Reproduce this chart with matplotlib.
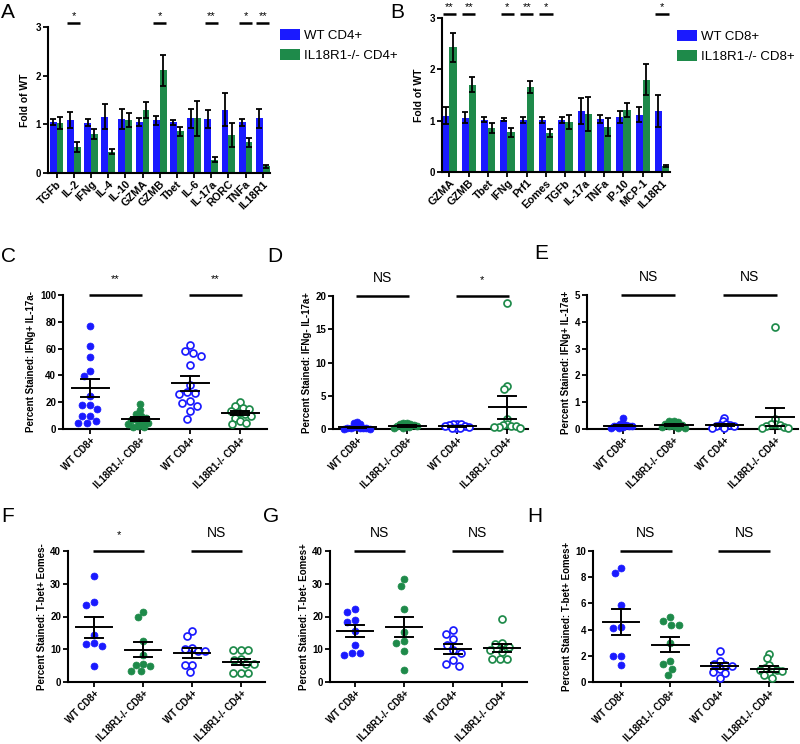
import numpy as np
import matplotlib
matplotlib.use('Agg')
import matplotlib.pyplot as plt
from matplotlib.patches import Patch

plt.rcParams['font.family'] = ['Liberation Sans', 'DejaVu Sans']

BLUE = '#1a1aff'
GREEN = '#1e8a4a'

# ---------------- Panel A data ----------------
a_genes = ['TGFb', 'IL-2', 'IFNg', 'IL-4', 'IL-10', 'GZMA', 'GZMB', 'Tbet',
           'IL-6', 'IL-17a', 'RORC', 'TNFa', 'IL18R1']
a_wt = [1.04, 1.09, 1.03, 1.16, 1.11, 1.05, 1.08, 1.04, 1.12, 1.11, 1.30, 1.04, 1.12]
a_wt_err = [0.06, 0.17, 0.07, 0.25, 0.20, 0.08, 0.10, 0.05, 0.20, 0.18, 0.34, 0.07, 0.20]
a_ko = [1.03, 0.54, 0.80, 0.44, 1.09, 1.29, 2.11, 0.86, 1.12, 0.27, 0.78, 0.63, 0.14]
a_ko_err = [0.12, 0.10, 0.10, 0.05, 0.14, 0.17, 0.32, 0.09, 0.35, 0.05, 0.25, 0.09, 0.03]
a_sig_genes = ['IL-2', 'GZMB', 'IL-17a', 'TNFa', 'IL18R1']
a_sig_marks = ['*', '*', '**', '*', '**']

# ---------------- Panel B data ----------------
b_genes = ['GZMA', 'GZMB', 'Tbet', 'IFNg', 'Prf1', 'Eomes', 'TGFb', 'IL-17a',
           'TNFa', 'IP-10', 'MCP-1', 'IL18R1']
b_wt = [1.10, 1.06, 1.02, 1.02, 1.02, 1.02, 1.02, 1.19, 1.04, 1.07, 1.12, 1.19]
b_wt_err = [0.17, 0.10, 0.05, 0.03, 0.06, 0.06, 0.06, 0.26, 0.08, 0.11, 0.15, 0.31]
b_ko = [2.43, 1.70, 0.86, 0.77, 1.65, 0.76, 0.97, 1.13, 0.88, 1.21, 1.80, 0.11]
b_ko_err = [0.28, 0.15, 0.10, 0.09, 0.12, 0.08, 0.14, 0.34, 0.18, 0.14, 0.30, 0.02]
b_sig_genes = ['GZMA', 'GZMB', 'IFNg', 'Prf1', 'Eomes', 'IL18R1']
b_sig_marks = ['**', '**', '*', '**', '*', '*']

# ---------------- Scatter panels ----------------
groups = ['WT CD8+', 'IL18R1-/- CD8+', 'WT CD4+', 'IL18R1-/- CD4+']

c_wt_cd8 = [77, 62, 54, 43.4, 39.7, 24.3, 18, 18, 15, 10, 10, 5.7, 4.5, 4.5]
c_ko_cd8 = [18.6, 13.9, 11.2, 9.5, 8, 7, 6.5, 5.5, 4.5, 3.5, 2.5, 1.8, 1.5]
c_wt_cd4 = [62.5, 58, 57, 54.6, 48, 32.8, 27.3, 26.8, 26.3, 20.6, 19.4, 17.4, 13.2, 7.7]
c_ko_cd4 = [19.9, 16.9, 15.6, 14.9, 13.2, 11.9, 11, 9.4, 8.2, 5.7, 4.5, 4]
c_mean = [30.5, 7.7, 34.2, 12.2]
c_sem = [6.5, 1.5, 5.5, 1.4]

d_wt_cd8 = [1.0, 0.9, 0.7, 0.4, 0.3, 0.2, 0.2, 0.15, 0.1, 0.1, 0.05, 0.05]
d_ko_cd8 = [0.9, 0.85, 0.8, 0.7, 0.6, 0.5, 0.45, 0.4, 0.3, 0.2, 0.15]
d_wt_cd4 = [0.8, 0.75, 0.7, 0.6, 0.5, 0.4, 0.3, 0.2, 0.1, 0.1]
d_ko_cd4 = [18.9, 6.5, 6.0, 1.5, 0.8, 0.6, 0.5, 0.4, 0.3, 0.3, 0.2]
d_mean = [0.25, 0.45, 0.4, 3.24]
d_sem = [0.1, 0.08, 0.08, 1.7]

e_wt_cd8 = [0.42, 0.2, 0.18, 0.15, 0.13, 0.12, 0.1, 0.1, 0.08, 0.05, 0.05]
e_ko_cd8 = [0.3, 0.28, 0.25, 0.2, 0.15, 0.12, 0.1, 0.08, 0.05, 0.05]
e_wt_cd4 = [0.42, 0.28, 0.2, 0.15, 0.15, 0.12, 0.1, 0.05, 0.05]
e_ko_cd4 = [3.82, 0.38, 0.2, 0.18, 0.15, 0.12, 0.08, 0.05, 0.05]
e_mean = [0.13, 0.14, 0.14, 0.45]
e_sem = [0.03, 0.03, 0.04, 0.35]

f_wt_cd8 = [32.5, 24.4, 23.6, 14.5, 12.0, 11.6, 11.1, 4.8]
f_ko_cd8 = [21.5, 19.9, 12.4, 8.2, 5.6, 5.2, 5.0, 3.5, 3.4]
f_wt_cd4 = [15.6, 14.1, 10.5, 10.2, 9.5, 9.5, 5.1, 5.1, 3.1]
f_ko_cd4 = [9.9, 9.9, 9.9, 7.1, 6.8, 5.5, 5.4, 2.8, 2.8, 2.8]
f_mean = [16.7, 9.9, 8.8, 6.1]
f_sem = [3.3, 2.2, 1.5, 0.9]

g_wt_cd8 = [22.3, 21.5, 18.9, 18.4, 15.5, 11.2, 8.9, 8.9, 8.3]
g_ko_cd8 = [31.6, 29.3, 22.3, 15.2, 12.4, 11.8, 9.6, 3.6]
g_wt_cd4 = [16.0, 14.6, 13.0, 11.4, 9.9, 9.0, 6.6, 5.6, 4.9]
g_ko_cd4 = [19.3, 11.9, 11.6, 10.8, 9.8, 9.2, 7.0, 7.0, 7.0]
g_mean = [15.6, 16.8, 10.1, 10.5]
g_sem = [1.9, 3.1, 1.5, 1.2]

h_wt_cd8 = [8.7, 8.3, 5.9, 4.2, 4.1, 2.0, 2.0, 1.3]
h_ko_cd8 = [4.97, 4.64, 4.34, 4.34, 3.0, 1.6, 1.35, 1.0, 0.5]
h_wt_cd4 = [2.4, 1.6, 1.35, 1.3, 1.2, 1.0, 0.8, 0.7, 0.3]
h_ko_cd4 = [2.15, 1.8, 1.3, 1.1, 1.0, 0.95, 0.9, 0.85, 0.6, 0.55, 0.3]
h_mean = [4.57, 2.86, 1.2, 1.0]
h_sem = [1.0, 0.6, 0.22, 0.2]

W, H = 800, 744
fig = plt.figure(figsize=(W / 100, H / 100), dpi=100)


def px_axes(left, right, top, bottom):
    return fig.add_axes([left / W, 1 - bottom / H, (right - left) / W, (bottom - top) / H])


def style_axes(ax):
    for s in ['top', 'right']:
        ax.spines[s].set_visible(False)
    for s in ['left', 'bottom']:
        ax.spines[s].set_linewidth(1.5)
    ax.tick_params(direction='out', length=3.5, width=1.3, pad=1.5)
    ax.tick_params(axis='x', pad=0.8)
    for lab in ax.get_yticklabels():
        lab.set_fontweight('bold')
        lab.set_fontsize(7)


def bar_panel(ax, genes, wt, wt_err, ko, ko_err, sig_genes, sig_marks, width, xlim):
    x = np.arange(len(genes))
    ax.bar(x - width / 2, wt, width, color=BLUE, zorder=2)
    ax.bar(x + width / 2, ko, width, color=GREEN, zorder=2)
    ax.errorbar(x - width / 2, wt, yerr=wt_err, fmt='none', ecolor='black',
                elinewidth=1.3, capsize=2.2, capthick=1.3, zorder=3)
    ax.errorbar(x + width / 2, ko, yerr=ko_err, fmt='none', ecolor='black',
                elinewidth=1.3, capsize=2.2, capthick=1.3, zorder=3)
    ax.set_xlim(*xlim)
    ax.set_ylim(0, 3)
    ax.set_yticks([0, 1, 2, 3])
    ax.set_xticks(x)
    ax.set_xticklabels(genes, rotation=45, ha='right', rotation_mode='anchor',
                       fontsize=7.8, fontweight='bold')
    ax.set_ylabel('Fold of WT', fontsize=7.5, fontweight='bold', labelpad=4)
    style_axes(ax)
    for g, m in zip(sig_genes, sig_marks):
        i = genes.index(g)
        ax.plot([i - width * 0.95, i + width * 0.95], [3.08, 3.08], color='black',
                lw=1.8, clip_on=False, solid_capstyle='butt')
        ax.annotate(m, (i, 3.08), xytext=(0, 1.5), textcoords='offset points',
                    ha='center', va='bottom', fontsize=8, annotation_clip=False)


def add_legend(ax, labels, x, y):
    handles = [Patch(facecolor=BLUE, edgecolor='none'), Patch(facecolor=GREEN, edgecolor='none')]
    ax.legend(handles, labels, loc='upper left',
              bbox_to_anchor=(x / W, 1 - y / H), bbox_transform=fig.transFigure,
              frameon=False, fontsize=9.5, handlelength=1.5, handleheight=0.85,
              handletextpad=0.3, labelspacing=0.55, borderaxespad=0, borderpad=0)


# ---- A ----
axA = px_axes(48, 270, 27, 173)
bar_panel(axA, a_genes, a_wt, a_wt_err, a_ko, a_ko_err, a_sig_genes, a_sig_marks,
          0.4, (-0.5, 12.42))
add_legend(axA, ['WT CD4+', 'IL18R1-/- CD4+'], 280, 29)

# ---- B ----
axB = px_axes(442, 670, 18, 172)
bar_panel(axB, b_genes, b_wt, b_wt_err, b_ko, b_ko_err, b_sig_genes, b_sig_marks,
          0.37, (-0.38, 11.41))
add_legend(axB, ['WT CD8+', 'IL18R1-/- CD8+'], 677, 30)


def swarm_px(ys, diam):
    order = np.argsort(-ys)
    placed = []
    offs = np.zeros(len(ys))
    for i in order:
        y = ys[i]
        forb = []
        for (px, py) in placed:
            dy = abs(py - y)
            if dy < diam:
                dx = np.sqrt(diam ** 2 - dy ** 2)
                forb.append((px - dx, px + dx))
        cands = [0.0] + [a for a, b in forb] + [b for a, b in forb]
        best = 0.0
        for c in sorted(cands, key=abs):
            if all(not (a + 1e-6 < c < b - 1e-6) for a, b in forb):
                best = c
                break
        offs[i] = best
        placed.append((best, y))
    return offs


def swarm(ax, x0, values, diam, maxw=13.0):
    tr = ax.transData
    ys = np.array([tr.transform((x0, v))[1] for v in values])
    d = diam
    offs = swarm_px(ys, d)
    while np.max(np.abs(offs)) > maxw and d > 1.0:
        d *= 0.92
        offs = swarm_px(ys, d)
    bb = ax.get_window_extent()
    xl = ax.get_xlim()
    ppu = bb.width / (xl[1] - xl[0])
    return x0 + offs / ppu


def scatter_panel(ax, data, means, sems, ymax, yticks, ylabel, sig, xlim, ms=5.0):
    ax.set_xlim(*xlim)
    ax.set_ylim(0, ymax)
    ax.set_yticks(yticks)
    ax.set_xticks(range(4))
    ax.set_xticklabels(groups, rotation=45, ha='right', rotation_mode='anchor',
                       fontsize=6.9, fontweight='bold')
    ax.set_ylabel(ylabel, fontsize=7, fontweight='bold', labelpad=2.5)
    style_axes(ax)
    cols = [BLUE, GREEN, BLUE, GREEN]
    filled = [True, True, False, False]
    diam = ms / 0.72 + 1.2
    for i, vals in enumerate(data):
        xs = swarm(ax, i, vals, diam)
        if filled[i]:
            ax.plot(xs, vals, 'o', ms=ms, color=cols[i], mec=cols[i], mew=0.5,
                    clip_on=False, zorder=3, ls='none')
        else:
            ax.plot(xs, vals, 'o', ms=ms, mfc='white', mec=cols[i], mew=1.25,
                    clip_on=False, zorder=3, ls='none')
        m, s = means[i], sems[i]
        ax.plot([i - 0.37, i + 0.37], [m, m], color='black', lw=1.4, zorder=4, clip_on=False)
        ax.plot([i - 0.18, i + 0.18], [m + s, m + s], color='black', lw=1.4, zorder=4, clip_on=False)
        ax.plot([i - 0.18, i + 0.18], [m - s, m - s], color='black', lw=1.4, zorder=4, clip_on=False)
        ax.plot([i, i], [max(m - s, 0), m + s], color='black', lw=1.4, zorder=4, clip_on=False)
    for k, txt in enumerate(sig):
        a, b = 2 * k, 2 * k + 1
        ax.plot([a - 0.03, b + 0.03], [ymax, ymax], color='black', lw=1.8, clip_on=False,
                solid_capstyle='butt')
        fs = 10 if txt == 'NS' else 8
        ax.annotate(txt, ((a + b) / 2, ymax), xytext=(0, 8), textcoords='offset points',
                    ha='center', va='bottom', fontsize=fs, annotation_clip=False)


axC = px_axes(63, 267, 295, 429)
scatter_panel(axC, [c_wt_cd8, c_ko_cd8, c_wt_cd4, c_ko_cd4], c_mean, c_sem, 100,
              [0, 20, 40, 60, 80, 100], 'Percent Stained: IFNg+ IL-17a-', ['**', '**'],
              (-0.54, 3.54))
axD = px_axes(333, 528, 296, 429)
scatter_panel(axD, [d_wt_cd8, d_ko_cd8, d_wt_cd4, d_ko_cd4], d_mean, d_sem, 20,
              [0, 5, 10, 15, 20], 'Percent Stained: IFNg- IL-17a+', ['NS', '*'],
              (-0.48, 3.42))
axE = px_axes(587, 798, 295, 429)
scatter_panel(axE, [e_wt_cd8, e_ko_cd8, e_wt_cd4, e_ko_cd4], e_mean, e_sem, 5,
              [0, 1, 2, 3, 4, 5], 'Percent Stained: IFNg+ IL-17a+', ['NS', 'NS'],
              (-0.71, 3.45))
axF = px_axes(68, 265, 551, 682)
scatter_panel(axF, [f_wt_cd8, f_ko_cd8, f_wt_cd4, f_ko_cd4], f_mean, f_sem, 40,
              [0, 10, 20, 30, 40], 'Percent Stained: T-bet+ Eomes-', ['*', 'NS'],
              (-0.53, 3.49))
axG = px_axes(330, 527, 551, 682)
scatter_panel(axG, [g_wt_cd8, g_ko_cd8, g_wt_cd4, g_ko_cd4], g_mean, g_sem, 40,
              [0, 10, 20, 30, 40], 'Percent Stained: T-bet- Eomes+', ['NS', 'NS'],
              (-0.51, 3.51))
axH = px_axes(593, 793, 551, 682)
scatter_panel(axH, [h_wt_cd8, h_ko_cd8, h_wt_cd4, h_ko_cd4], h_mean, h_sem, 10,
              [0, 2, 4, 6, 8, 10], 'Percent Stained: T-bet+ Eomes+', ['NS', 'NS'],
              (-0.57, 3.49))

# panel letters
letters = ['A', 'B', 'C', 'D', 'E', 'F', 'G', 'H']
letter_pos = [(8, 13), (397, 13), (8, 257), (275, 257), (541, 254), (8, 516), (271, 516), (535, 516)]
for L, (lx, ly) in zip(letters, letter_pos):
    fig.text(lx / W, 1 - ly / H, L, fontsize=15, ha='center', va='center')

fig.savefig('out.png', dpi=100)
